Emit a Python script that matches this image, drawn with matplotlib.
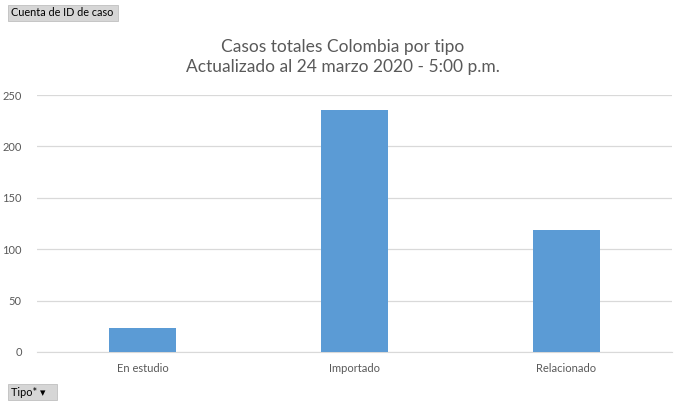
import matplotlib
matplotlib.use("Agg")
from matplotlib import pyplot as plt
from matplotlib.patches import Rectangle

plt.rcParams['font.family'] = ['Lato', 'DejaVu Sans']

categorias = ['En estudio', 'Importado', 'Relacionado']
casos = [23, 235, 119]
marcas_y = [0, 50, 100, 150, 200, 250]

titulo = 'Casos totales Colombia por tipo\nActualizado al 24 marzo 2020 - 5:00 p.m.'
gris_texto = '#595959'
azul = '#5b9bd5'

figure = plt.figure(figsize=(6.84, 4.04), dpi=100)
axis = figure.add_axes([37/684, 1-352/404, (672-37)/684, (352-95)/404])

axis.bar(range(len(categorias)), casos, width=0.315, color=azul, zorder=3)
axis.set_xlim(-0.5, len(categorias)-0.5)
axis.set_ylim(0, 250)
axis.set_yticks(marcas_y)
axis.set_xticks(range(len(categorias)))
axis.set_xticklabels(categorias)
axis.grid(axis='y', color='#d9d9d9', linewidth=0.9, zorder=0)
for lado in ['top', 'right', 'left']:
    axis.spines[lado].set_visible(False)
axis.spines['bottom'].set_color('#d9d9d9')
axis.tick_params(axis='both', length=0, labelsize=8, colors=gris_texto)
axis.tick_params(axis='x', pad=8)
axis.tick_params(axis='y', pad=11)

figure.text(343/684, 1-57/404, titulo, ha='center', va='center', fontsize=12.5,
            color=gris_texto, linespacing=1.3)

# botones del grafico dinamico
for (x0, y0, ancho, alto, texto) in [(8, 5, 110, 16, 'Cuenta de ID de caso'), (8, 384, 49, 16, 'Tipo* \u25be')]:
    figure.patches.append(Rectangle((x0/684, 1-(y0+alto)/404), ancho/684, alto/404,
                                    transform=figure.transFigure, facecolor='#d6d6d6',
                                    edgecolor='#c0c0c0', linewidth=0.6))
    figure.text((x0+3)/684, 1-(y0+alto/2)/404, texto, ha='left', va='center',
                fontsize=7.8, color='black')

plt.savefig('out.png', dpi=100)
